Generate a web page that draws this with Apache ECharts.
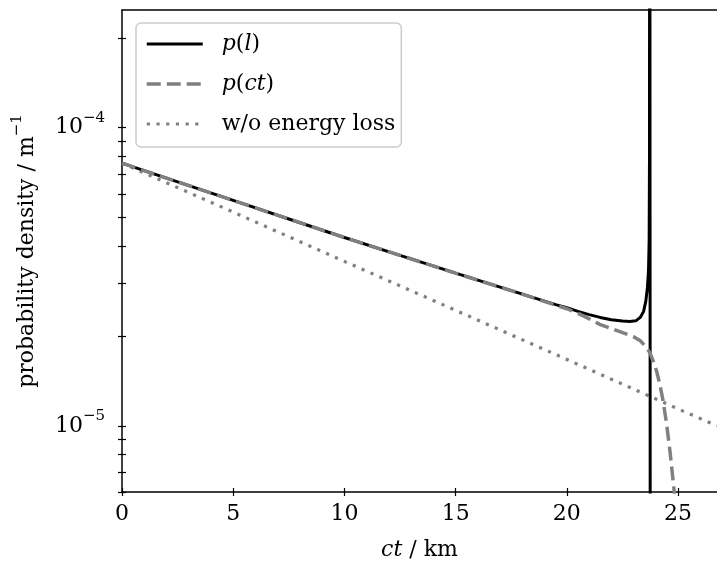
<!DOCTYPE html>
<html><head><meta charset="utf-8">
<script src="https://cdn.jsdelivr.net/npm/echarts@6/dist/echarts.min.js"></script>
<style>html,body{margin:0;padding:0;background:#fff}#c{width:717px;height:566px}</style>
</head><body><div id="c"></div>
<script>
// ct in km, densities in 1/m
const pLct  = [0, 2.5, 5, 7.5, 10, 12.5, 15, 17.5, 19.5, 20.0, 20.5, 21.0, 21.5, 22.0, 22.5, 22.83, 23.1, 23.3, 23.45, 23.55, 23.62, 23.67, 23.70, 23.715, 23.725, 23.765];
const pLval = [7.6e-5, 6.58e-5, 5.7e-5, 4.94e-5, 4.28e-5, 3.73e-5, 3.25e-5, 2.84e-5, 2.55e-5, 2.49e-5, 2.42e-5, 2.36e-5, 2.31e-5, 2.27e-5, 2.245e-5, 2.24e-5, 2.25e-5, 2.31e-5, 2.42e-5, 2.62e-5, 2.9e-5, 3.3e-5, 4.2e-5, 8e-5, 1e-2, 1e-8];
const pCTct  = [0, 2.5, 5, 7.5, 10, 12.5, 15, 17.5, 19.5, 20.0, 20.58, 21.48, 22.38, 23.0, 23.3, 23.58, 23.73, 23.88, 24.03, 24.18, 24.32, 24.48, 24.63, 24.83, 25.0];
const pCTval = [7.6e-5, 6.58e-5, 5.7e-5, 4.94e-5, 4.28e-5, 3.73e-5, 3.25e-5, 2.84e-5, 2.54e-5, 2.47e-5, 2.37e-5, 2.19e-5, 2.07e-5, 1.99e-5, 1.93e-5, 1.83e-5, 1.76e-5, 1.65e-5, 1.53e-5, 1.38e-5, 1.22e-5, 1.02e-5, 8.3e-6, 6.0e-6, 4.5e-6];
const noLossCt  = [0, 5, 10, 15, 20, 25, 26.75];
const noLossVal = [7.6e-5, 5.21e-5, 3.56e-5, 2.44e-5, 1.67e-5, 1.14e-5, 1.0e-5];
const xTicks = [0, 5, 10, 15, 20, 25];
const yMajor = [1e-5, 1e-4];
const yTicks = [6e-6, 7e-6, 8e-6, 9e-6, 1e-5, 2e-5, 3e-5, 4e-5, 5e-5, 6e-5, 7e-5, 8e-5, 9e-5, 1e-4, 2e-4];
const seriesNames = ['p(l)', 'p(ct)', 'w/o energy loss'];
const legendLabels = {'p(l)': '{g| }{i|p}({i|l})', 'p(ct)': '{g| }{i|p}({i|ct})', 'w/o energy loss': '{g| }w/o energy loss'};

const FONT = 'DejaVu Serif';
const X_MIN = 0, X_MAX = 26.75, Y_MIN = 6e-6, Y_MAX = 2.48e-4;
const zip = (a, b) => a.map((v, i) => [v, b[i]]);

const chart = echarts.init(document.getElementById('c'), null, {renderer: 'canvas'});
const tickStyle = {color: '#000', width: 1.2};
chart.setOption({
  animation: false,
  backgroundColor: '#fff',
  grid: {left: 122, right: 0, top: 10, bottom: 74, containLabel: false},
  legend: {
    orient: 'vertical', left: 136, top: 23,
    padding: [8, 6, 10, 9],
    itemWidth: 56, itemHeight: 14, itemGap: 14,
    backgroundColor: 'rgba(255,255,255,0.8)', borderColor: '#cccccc', borderWidth: 1.5, borderRadius: 5,
    itemStyle: {opacity: 0, borderWidth: 0},
    lineStyle: {width: 'inherit', type: 'inherit'},
    data: seriesNames,
    formatter: n => legendLabels[n],
    textStyle: {fontFamily: FONT, fontSize: 22, color: '#000', lineHeight: 26,
      rich: {i: {fontFamily: FONT, fontSize: 22, fontStyle: 'italic', color: '#000'}, g: {width: 14, fontSize: 22}}}
  },
  xAxis: [
    {type: 'value', min: X_MIN, max: X_MAX, position: 'bottom',
     axisLine: {show: true, onZero: false, lineStyle: {color: '#000', width: 1.5}},
     axisTick: {show: true, inside: false, length: 4, lineStyle: tickStyle, customValues: xTicks},
     axisLabel: {customValues: xTicks, margin: 11, fontFamily: FONT, fontSize: 22, color: '#000'},
     splitLine: {show: false},
     name: '{i|ct} / km', nameLocation: 'middle', nameGap: 47,
     nameTextStyle: {fontFamily: FONT, fontSize: 22, color: '#000', rich: {i: {fontFamily: FONT, fontSize: 22, fontStyle: 'italic', color: '#000'}}}},
    {type: 'value', min: X_MIN, max: X_MAX, position: 'bottom',
     axisLine: {show: false},
     axisTick: {show: true, inside: true, length: 4, lineStyle: tickStyle, customValues: xTicks},
     axisLabel: {show: false}, splitLine: {show: false}},
    {type: 'value', min: X_MIN, max: X_MAX, position: 'top',
     axisLine: {show: true, onZero: false, lineStyle: {color: '#000', width: 1.5}},
     axisTick: {show: false}, axisLabel: {show: false}, splitLine: {show: false}}
  ],
  yAxis: [
    {type: 'log', logBase: 10, min: Y_MIN, max: Y_MAX, position: 'left',
     axisLine: {show: true, onZero: false, lineStyle: {color: '#000', width: 1.5}},
     axisTick: {show: true, inside: false, length: 4, lineStyle: tickStyle, customValues: yTicks},
     axisLabel: {customValues: yMajor, margin: 17, color: '#000', fontFamily: FONT, fontSize: 22,
       formatter: v => '{b|10}{s|\u2212' + Math.abs(Math.round(Math.log10(v))) + '}',
       rich: {b: {fontFamily: FONT, fontSize: 22, color: '#000'}, s: {fontFamily: FONT, fontSize: 15, color: '#000', padding: [0, 0, 19, 0]}}},
     splitLine: {show: false}, minorTick: {show: false},
     name: 'probability density / m{s|\u22121}', nameLocation: 'middle', nameGap: 78, nameRotate: 90,
     nameTextStyle: {fontFamily: FONT, fontSize: 22, color: '#000', rich: {s: {fontFamily: FONT, fontSize: 15, color: '#000', padding: [0, 0, 19, 0]}}}},
    {type: 'log', logBase: 10, min: Y_MIN, max: Y_MAX, position: 'left',
     axisLine: {show: false},
     axisTick: {show: true, inside: true, length: 4, lineStyle: tickStyle, customValues: yTicks},
     axisLabel: {show: false}, splitLine: {show: false}}
  ],
  series: [
    {type: 'line', name: 'p(l)', data: zip(pLct, pLval), symbol: 'none', clip: true, z: 3,
     lineStyle: {color: '#000', width: 3}, itemStyle: {color: '#000'}},
    {type: 'line', name: 'p(ct)', data: zip(pCTct, pCTval), symbol: 'none', clip: true, z: 4,
     lineStyle: {color: '#808080', width: 3.5, type: [14, 6]}, itemStyle: {color: '#808080'}},
    {type: 'line', name: 'w/o energy loss', data: zip(noLossCt, noLossVal), symbol: 'none', clip: true, z: 2,
     lineStyle: {color: '#808080', width: 3.2, type: [3.2, 6.5]}, itemStyle: {color: '#808080'}}
  ]
});
</script>
</body></html>
